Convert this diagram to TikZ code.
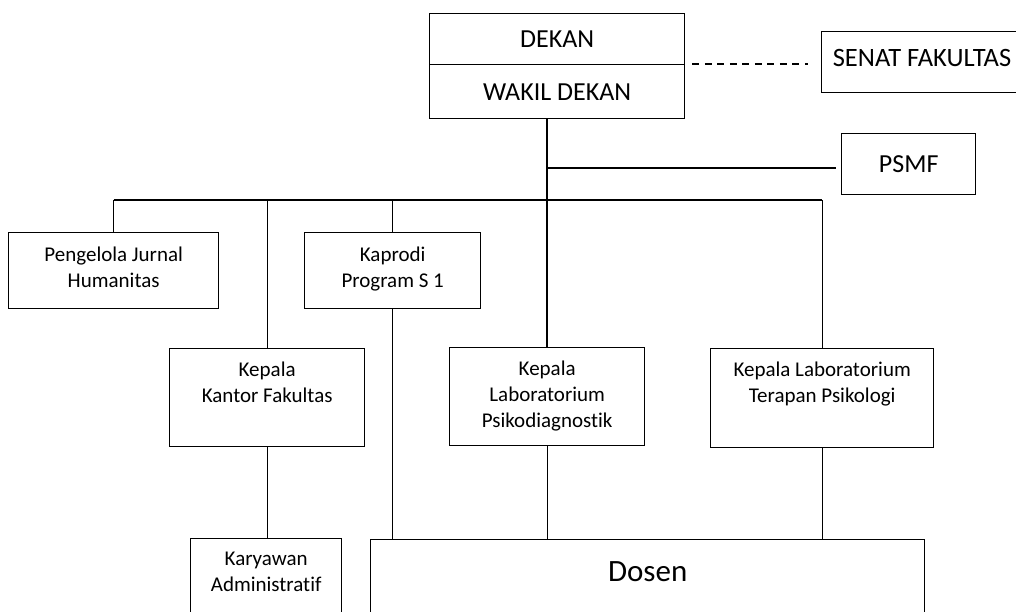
\documentclass[tikz,border=0pt]{standalone}
\usepackage{fontspec}
\setmainfont{Carlito}[Ligatures=NoCommon]
\begin{document}
\begin{tikzpicture}[x=1pt,y=-1pt,
  box/.style={draw, line width=1.35pt, inner sep=0pt, anchor=north west},
  hbox/.style={draw, line width=1.35pt, inner sep=0pt, anchor=north west, font=\fontsize{26}{30}\selectfont},
  txt/.style={font=\fontsize{21}{26}\selectfont, align=center, inner sep=0pt, anchor=north},
  conn/.style={line width=1.35pt},
  dconn/.style={line width=1.35pt, dash pattern=on 7pt off 5.5pt}
]
\useasboundingbox (0,0) rectangle (1016,611);
\fill[white] (0,0) rectangle (1016,611);

% top boxes
\node[hbox, minimum width=255pt, minimum height=51pt] (dekanA) at (429,13) {DEKAN};
\node[hbox, minimum width=255pt, minimum height=54pt] (dekanB) at (429,64) {WAKIL DEKAN};
\node[box, minimum width=201pt, minimum height=61pt] (senat) at (821,31) {};
\node[inner sep=0pt, font=\fontsize{26.5}{30}\selectfont] (senatT) at (922,57.5) {SENAT FAKULTAS};
\node[hbox, minimum width=134pt, minimum height=61pt] (psmf) at (841,133) {PSMF};

% second level
\node[box, minimum width=210pt, minimum height=76pt] (peng) at (8,232) {};
\node[txt] (pengT) at ([yshift=-15pt]peng.north) {Pengelola Jurnal\\Humanitas};
\node[box, minimum width=176pt, minimum height=76pt] (kaprodi) at (304,232) {};
\node[txt] (kaprodiT) at ([yshift=-15pt]kaprodi.north) {Kaprodi\\Program S 1};

% third level
\node[box, minimum width=195pt, minimum height=98pt] (kantor) at (169,348) {};
\node[txt] (kantorT) at ([yshift=-14pt]kantor.north) {Kepala\\Kantor Fakultas};
\node[box, minimum width=195pt, minimum height=98pt] (psiko) at (449,347) {};
\node[txt] (psikoT) at ([yshift=-14pt]psiko.north) {Kepala\\Laboratorium\\Psikodiagnostik};
\node[box, minimum width=223pt, minimum height=99pt] (terapan) at (710,348) {};
\node[txt] (terapanT) at ([yshift=-14pt]terapan.north) {Kepala Laboratorium\\Terapan Psikologi};

% bottom level
\node[box, minimum width=151pt, minimum height=100pt] (karyawan) at (190,538) {};
\node[txt] (karyawanT) at ([yshift=-14pt]karyawan.north) {Karyawan\\Administratif};
\node[box, minimum width=554pt, minimum height=100pt] (dosen) at (370,539) {};
\node[inner sep=0pt, anchor=north, font=\fontsize{31}{36}\selectfont] (dosenT) at ([yshift=-22pt]dosen.north) {Dosen};

% junction coordinates
\coordinate (trunk) at (547,118);
\coordinate (bus) at (547,200);
\coordinate (pj) at (547,168);

% connectors
\draw[dconn, shorten <=7pt, shorten >=13pt] (dekanB.north east) -- (senat.west |- dekanB.north east);
\draw[conn] (trunk) -- (psiko.north -| trunk);
\draw[conn, shorten >=5pt] (pj) -- (pj -| psmf.west);
\draw[conn] (peng.north |- bus) -- (terapan.north |- bus);
\draw[conn] (peng.north |- bus) -- (peng.north);
\draw[conn] (kantor.north |- bus) -- (kantor.north);
\draw[conn] (kaprodi.north |- bus) -- (kaprodi.north);
\draw[conn] (terapan.north |- bus) -- (terapan.north);
\draw[conn] (kaprodi.south) -- (kaprodi.south |- dosen.north);
\draw[conn] (kantor.south) -- (kantor.south |- karyawan.north);
\draw[conn] (psiko.south) -- (psiko.south |- dosen.north);
\draw[conn] (terapan.south) -- (terapan.south |- dosen.north);
\end{tikzpicture}
\end{document}
